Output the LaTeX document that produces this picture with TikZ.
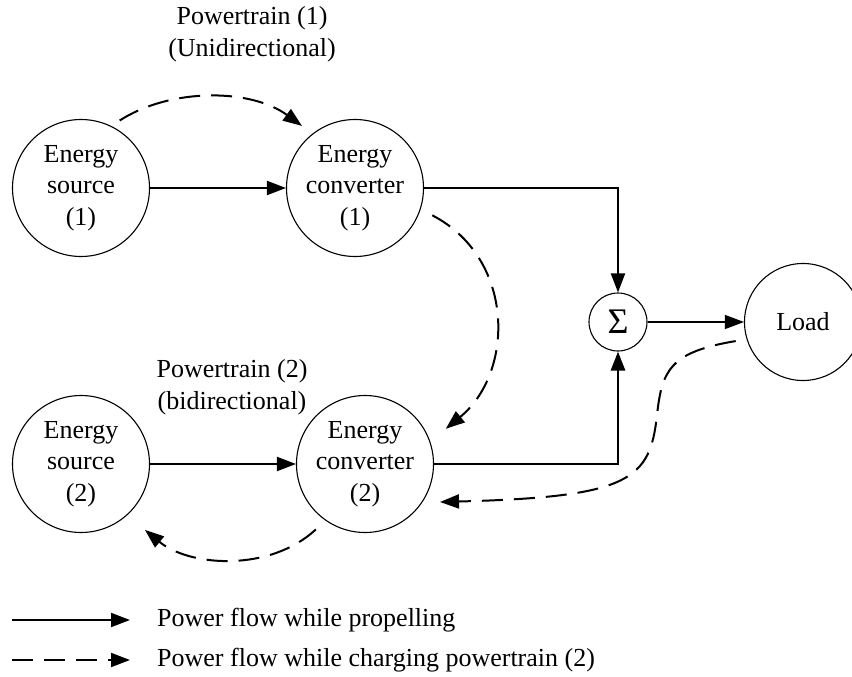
\documentclass[tikz,border=0pt]{standalone}
\usepackage{fontspec}
\setmainfont{Liberation Serif}
\usetikzlibrary{arrows.meta}
\begin{document}
\begin{tikzpicture}[x=1pt,y=-1pt,
  txt/.style={font=\fontsize{26}{31.5}\selectfont, align=center, inner sep=0pt},
  blob/.style={circle, draw, line width=1.1pt, inner sep=0pt, txt},
  flow/.style={line width=2pt, -{Triangle[length=19pt,width=14pt]}},
  chg/.style={flow, dash pattern=on 21pt off 11pt},
]
\useasboundingbox (0,0) rectangle (852,677);

\node[blob, minimum size=137pt] (es1) at (81,188) {Energy\\source\\(1)};
\node[blob, minimum size=137pt] (ec1) at (355,188) {Energy\\converter\\(1)};
\node[blob, minimum size=137pt] (es2) at (81,464) {Energy\\source\\(2)};
\node[blob, minimum size=137pt] (ec2) at (365,464) {Energy\\converter\\(2)};
\node[circle, draw, line width=1.1pt, inner sep=0pt, minimum size=58pt,
      font=\fontsize{36}{36}\selectfont] (sig) at (618,322) {Σ};
\node[blob, minimum size=117pt] (load) at (803,322) {Load};

\node[txt] (pt1) at (252,34) {Powertrain (1)\\(Unidirectional)};
\node[txt] (pt2) at (232,387) {Powertrain (2)\\(bidirectional)};

% propelling flows
\draw[flow] (es1.east) -- (ec1.west);
\draw[flow] (es2.east) -- (ec2.west);
\draw[flow] (ec1.east) -| (sig.north);
\draw[flow, line width=2.8pt] (ec2.east) -| (sig.south);
\draw[flow, line width=1.3pt] (sig.east) -- (load.west);

% charging flows
\draw[chg, shorten <=10pt, shorten >=13pt]
  (es1.64) .. controls (170,88) and (250,88) .. (ec1.128);
\draw[chg, shorten <=13pt, shorten >=20pt]
  (ec1.-18) .. controls (515,258) and (515,372) .. (ec2.19);
\draw[chg, shorten <=11pt]
  (load.197) .. controls (670,352) and (662,370) .. (657,415)
  .. controls (650,480) and (630,497) .. (440,502);
\draw[chg, shorten <=13pt, shorten >=23pt]
  (ec2.-125) .. controls (270,572) and (190,567) .. (es2.-48);

% legend
\coordinate (l1a) at (12,620);
\coordinate (l1b) at (130,620);
\coordinate (l2a) at (12,660);
\coordinate (l2b) at (130,660);
\draw[flow] (l1a) -- (l1b);
\draw[chg] (l2a) -- (l2b);
\node[txt, anchor=west] (lg1) at (157,620) {Power flow while propelling};
\node[txt, anchor=west] (lg2) at (157,660) {Power flow while charging powertrain (2)};
\end{tikzpicture}
\end{document}
